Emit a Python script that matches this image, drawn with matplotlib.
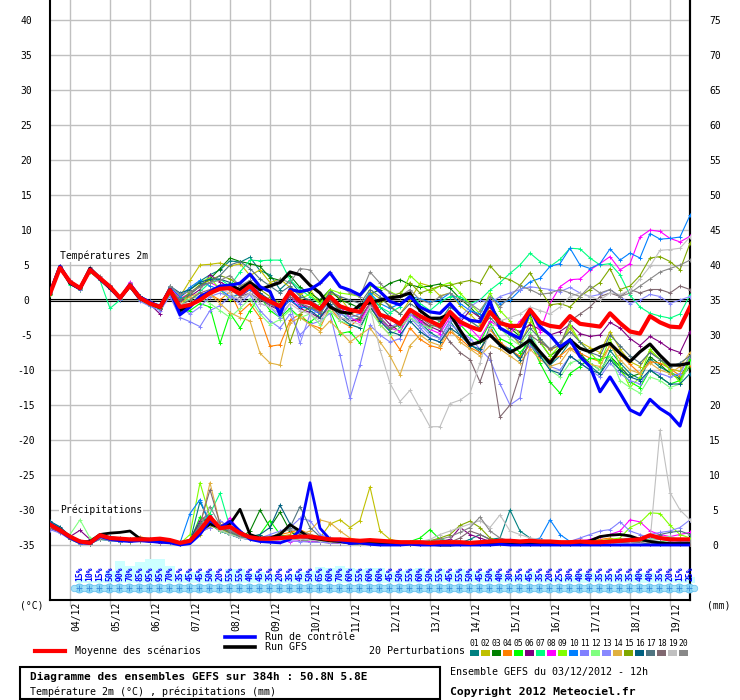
import matplotlib
matplotlib.use("Agg")
import matplotlib.pyplot as plt
from matplotlib.lines import Line2D
from matplotlib.patches import Rectangle
from matplotlib.transforms import blended_transform_factory, offset_copy

plt.rcParams["font.family"] = ["DejaVu Sans Mono", "DejaVu Sans"]

W, H = 740, 700

# ---- data -------------------------------------------------------------
hours = list(range(0, 385, 6))          # GEFS run 03/12/2012 12h, every 6h
day_hours = list(range(12, 384, 24))    # 00h of each day
day_labels = ["04/12", "05/12", "06/12", "07/12", "08/12", "09/12", "10/12", "11/12",
              "12/12", "13/12", "14/12", "15/12", "16/12", "17/12", "18/12", "19/12"]
left_ticks = list(range(-35, 41, 5))
right_ticks = list(range(0, 76, 5))

# probability of precipitation (%) for 6h steps ending 18h..384h
prob_hours = list(range(18, 385, 6))
prob_pct = [15, 10, 15, 50, 90, 70, 85, 95, 95, 70, 35, 45, 45, 50, 20, 55, 55, 40, 45, 35,
            20, 35, 45, 50, 65, 60, 70, 60, 55, 60, 60, 45, 50, 55, 60, 50, 55, 45, 55, 50,
            45, 50, 40, 30, 35, 45, 35, 20, 25, 30, 40, 40, 35, 35, 35, 35, 40, 40, 35, 20,
            15, 25]

# 2m temperature (degC)
t_mean = [0.9, 4.6, 2.6, 1.7, 4.3, 3.1, 1.9, 0.3, 2.1, 0.3, -0.5, -1.0, 1.4, -1.0, -0.7, 0.0,
          1.0, 1.6, 1.7, 0.9, 2.0, 0.5, -0.2, -0.9, 1.2, -0.2, -0.4, -1.3, 0.5, -0.9, -1.4, -1.7,
          0.4, -2.1, -2.6, -3.4, -1.4, -2.3, -3.0, -3.7, -1.7, -3.1, -3.8, -4.3, -1.7, -3.3, -3.7,
          -3.7, -1.4, -3.2, -3.7, -3.9, -2.3, -3.4, -3.6, -3.8, -1.9, -3.3, -4.5, -4.8, -2.3, -3.2,
          -3.8, -3.9, -1.0]
t_ctrl = [1.0, 4.8, 2.5, 1.6, 4.4, 3.0, 1.8, 0.2, 2.2, 0.4, -0.3, -1.0, 1.5, -2.1, -1.0, 0.5,
          1.2, 2.0, 2.1, 2.4, 3.7, 1.9, 1.2, -2.1, 1.5, 1.2, 1.5, 2.4, 3.9, 1.9, 1.4, 0.7,
          2.4, 1.2, -0.2, -0.7, 0.5, -1.0, -1.7, -1.9, -0.5, -2.1, -2.9, -3.1, -0.2, -4.0, -4.8,
          -5.5, -1.4, -3.8, -5.0, -6.7, -5.7, -8.1, -9.5, -13.1, -11.0, -13.3, -15.7, -16.4, -14.2,
          -15.5, -16.4, -18.0, -13.1]
t_gfs = [1.0, 4.8, 2.4, 1.6, 4.5, 3.0, 1.7, 0.3, 2.0, 0.2, -0.4, -1.1, 1.5, -1.5, -0.8, 0.2,
         1.0, 1.8, 2.0, 1.5, 2.5, 1.5, 2.0, 2.5, 4.0, 3.6, 2.1, 1.0, -1.0, -1.7, -1.9, -0.7,
         -0.4, 0.0, 0.3, 0.5, 1.0, -1.5, -2.6, -2.6, -2.0, -4.3, -6.4, -6.0, -5.0, -6.4, -7.5,
         -6.7, -5.7, -7.4, -9.0, -7.1, -5.7, -6.9, -7.4, -6.7, -6.2, -7.6, -8.8, -7.4, -6.3,
         -7.9, -9.3, -9.3, -9.0]

t_p01 = [1.0, 4.9, 2.4, 1.8, 4.5, 3.0, 1.6, 0.0, 2.4, 0.6, -0.2, -1.3,
         1.8, 0.4, 1.5, 2.7, 3.6, 4.3, 5.6, 5.4, 6.1,
         4.2, 3.6, 1.5, 2.8, 1.0, -0.5, -2.0, 0.2, -1.8, -3.0,
         -2.5, 0.6, -1.0, -2.4, -4.0, -1.5, -3.2, -4.6, -5.5, -3.0,
         -5.0, -6.3, -7.4, -3.8, -6.2, -7.0, -8.2, -5.0, -7.8, -9.3,
         -8.0, -6.0, -7.5, -9.4, -10.6, -7.2, -9.0, -10.5, -11.3, -8.4,
         -9.6, -10.3, -11.0, -8.6]
t_p02 = [0.8, 4.5, 2.5, 1.5, 4.2, 3.2, 2.0, 0.5, 2.0, 0.2, -0.6, -0.9,
         1.2, 0.5, 2.8, 5.0, 5.1, 5.3, 4.8, 5.2, 3.5,
         4.3, 2.5, 3.0, 1.8, 0.8, 1.5, -0.5, 1.0, 0.3, -1.5,
         -1.0, 1.2, 0.2, -0.8, -2.0, 0.0, 2.4, 2.0, 0.6, 1.0,
         -0.8, -2.0, -3.5, -1.0, -3.0, -4.5, -6.5, -3.2, -5.6, -7.2,
         -6.4, -4.0, -6.0, -6.8, -7.5, -4.5, -7.0, -8.8, -9.5, -7.3,
         -8.5, -9.8, -10.2, -8.0]
t_p03 = [1.1, 4.7, 2.7, 1.9, 4.2, 3.0, 1.8, 0.4, 2.0, 0.1, -0.7, -1.1,
         1.6, -0.5, 0.8, 2.0, 3.0, 4.5, 6.0, 5.5, 5.2,
         4.8, 3.2, 2.8, 3.5, 1.8, 1.0, 0.0, 1.5, 0.0, -0.5,
         -1.2, 0.8, 1.5, 2.4, 2.9, 2.2, 1.8, 2.0, 2.3, 1.7,
         0.2, -1.0, -2.5, -0.5, -2.8, -4.0, -5.2, -2.0, -6.0, -8.0,
         -7.0, -5.5, -7.8, -9.0, -10.0, -8.0, -9.5, -11.0, -10.5, -8.1,
         -9.2, -10.5, -11.3, -9.5]
t_p04 = [0.9, 4.6, 2.8, 1.6, 4.4, 3.1, 1.9, 0.2, 2.2, 0.4, -0.4, -1.0,
         1.3, -1.2, -0.5, 0.5, 0.8, 0.0, 1.2, -1.8, -0.5,
         -2.5, -6.6, -6.4, -2.9, -2.0, -3.5, -4.0, -1.0, -3.0, -3.8,
         -2.5, -0.5, -3.5, -5.0, -7.1, -4.0, -5.6, -6.5, -6.9, -4.5,
         -5.5, -6.8, -7.5, -4.2, -6.0, -7.2, -8.0, -6.5, -8.2, -8.5,
         -8.0, -6.8, -7.6, -8.3, -8.8, -6.5, -7.8, -9.2, -10.5, -8.8,
         -9.0, -9.8, -10.8, -9.3]
t_p05 = [0.7, 4.4, 2.3, 1.5, 4.0, 2.9, 1.7, 0.1, 1.8, 0.0, -0.8, -1.3,
         0.8, -1.8, -1.5, -0.5, -1.0, -6.2, -1.9, -4.0, -1.5,
         0.5, -1.5, -2.5, -1.2, -2.5, -3.2, -2.0, -1.5, -4.8, -4.5,
         -6.2, -1.0, -2.8, -4.2, -3.5, -1.6, -2.8, -4.0, -3.0, -1.8,
         -3.5, -5.0, -6.0, -3.2, -5.5, -6.2, -7.5, -6.0, -9.0, -11.7,
         -13.3, -10.5, -9.5, -8.3, -8.5, -8.0, -10.0, -11.7, -12.5, -10.0,
         -11.0, -12.0, -11.5, -8.5]
t_p06 = [1.0, 4.8, 2.5, 1.7, 4.3, 3.0, 1.8, 0.3, 2.3, 0.2, -0.6, -2.0,
         1.7, -0.2, 0.5, 1.5, 3.6, 2.6, 1.8, 0.5, 1.5,
         0.2, -0.8, -1.5, 0.0, -1.2, -1.8, -2.6, -0.8, -2.5, -3.0,
         -2.8, -0.5, -2.0, -3.5, -4.5, -2.0, -2.8, -3.8, -4.4, -2.0,
         -3.2, -1.5, -2.5, -1.0, -3.0, -4.0, -4.5, -3.5, -4.2, -5.0,
         -4.5, -3.5, -4.8, -5.2, -5.0, -3.2, -4.0, -5.5, -6.5, -5.2,
         -6.0, -7.0, -7.5, -4.5]
t_p07 = [0.8, 4.5, 2.2, 1.6, 4.1, 2.8, -1.2, 0.0, 1.9, 0.1, -0.5, -1.2,
         1.5, 0.3, 0.0, 1.2, 2.5, 3.0, 2.0, 4.0, 5.7,
         5.6, 5.7, 5.7, 2.9, 1.5, 0.5, -0.5, 0.8, -1.5, -2.5,
         -2.0, 1.0, -1.0, -1.8, -1.0, 0.8, -0.5, -1.5, -0.3, 0.5,
         0.5, -0.5, 0.0, 1.4, 2.5, 3.8, 5.0, 6.7, 5.5, 4.8,
         5.8, 7.4, 7.3, 6.0, 5.0, 5.2, 3.6, 0.7, -1.0, -1.9,
         -2.3, -2.6, -2.0, 0.7]
t_p08 = [1.0, 4.9, 2.7, 1.9, 4.6, 3.3, 2.0, 0.4, 2.6, 0.5, -0.3, -0.8,
         1.8, 0.2, 1.0, 2.0, 2.5, 1.8, 2.0, 1.0, 2.3,
         1.0, -0.5, -1.2, 0.5, -0.8, -1.0, -2.0, 0.5, -1.0, -2.5,
         -3.2, -0.5, -3.0, -4.0, -4.5, -2.0, -3.0, -4.2, -4.8, -2.5,
         -3.5, -4.0, -5.5, -3.0, -4.0, -4.8, -3.0, -1.5, -4.5, -0.5,
         1.9, 2.9, 3.0, 4.3, 5.2, 6.2, 4.3, 5.2, 9.0, 10.0,
         9.8, 8.8, 8.3, 9.1]
t_p09 = [0.9, 4.6, 2.5, 1.6, 4.3, 3.0, 1.8, 0.2, 2.0, 0.2, -0.7, -1.1,
         1.0, -1.5, 1.5, 2.5, 3.2, 1.5, 0.0, 1.0, 1.8,
         0.5, 0.0, -0.8, 1.0, 0.2, 0.8, -0.5, 1.5, 1.0, 0.8,
         0.5, 2.0, 1.8, 1.2, 0.5, 3.5, 2.2, 1.2, 2.0, 2.5,
         1.0, -0.5, -2.0, 1.0, -1.5, -3.0, -5.0, -2.5, -6.0, -8.0,
         -6.5, -3.5, -6.0, -7.5, -9.0, -5.5, -9.5, -12.5, -11.0, -7.0,
         -8.5, -10.0, -11.8, -8.0]
t_p10 = [1.0, 4.7, 2.6, 1.8, 4.4, 3.2, 2.0, 0.3, 2.1, 0.4, -0.3, -0.7,
         1.9, 0.5, 1.8, 2.8, 2.0, 1.5, 0.5, 0.8, 1.5,
         0.5, -0.5, -1.5, 0.0, -1.0, -1.2, -2.0, 0.5, -1.2, -1.5,
         -1.0, 1.0, -0.5, -1.2, -0.5, 0.5, 0.2, -0.3, 0.0, 1.0,
         -0.5, -1.5, -2.0, 0.5, -0.5, 0.0, 1.4, 2.6, 3.1, 4.8,
         5.2, 7.4, 5.0, 4.5, 5.2, 7.3, 5.7, 6.7, 6.0, 9.5,
         8.7, 8.8, 9.0, 12.1]
t_p11 = [0.8, 4.4, 2.4, 1.5, 4.1, 2.9, 1.7, 0.0, 1.8, -0.2, -0.9, -1.5,
         0.5, -2.5, -3.1, -3.8, -1.5, -0.8, 0.5, -0.5, 0.8,
         -1.5, -3.0, -4.0, -2.0, -5.0, -3.5, -3.0, -1.9, -7.9, -14.0,
         -9.3, -3.6, -5.0, -6.0, -5.5, -2.5, -4.0, -5.5, -6.0, -3.5,
         -4.5, -5.5, -7.0, -8.5, -12.0, -15.0, -14.0, -6.5, -8.0, -9.5,
         -10.0, -8.0, -9.0, -10.0, -11.0, -9.0, -10.5, -11.5, -12.0, -10.0,
         -10.5, -11.0, -10.5, -8.0]
t_p12 = [0.9, 4.5, 2.6, 1.7, 4.2, 3.1, 1.9, 0.3, 2.0, 0.3, -0.5, -1.0,
         1.2, -0.8, 0.2, 0.5, -0.5, -1.5, -2.5, -1.2, 0.2,
         -2.0, -3.5, -2.8, -1.5, -2.5, -2.0, -3.5, -1.5, -3.0, -3.5,
         -4.0, -1.5, -3.5, -5.0, -4.0, -2.5, -3.5, -4.0, -3.0, -1.0,
         -2.0, -3.0, -4.0, -1.5, -4.0, -5.5, -6.5, -4.5, -7.5, -10.0,
         -11.0, -9.0, -8.5, -9.0, -10.0, -8.0, -11.5, -12.5, -13.3, -11.0,
         -11.5, -12.5, -12.0, -9.0]
t_p13 = [1.1, 4.8, 2.8, 1.8, 4.5, 3.2, 2.1, 0.5, 2.2, 0.5, -0.2, -0.8,
         1.4, -1.0, -2.0, -1.0, 0.5, 1.0, 0.5, 0.0, 1.0,
         -0.5, -1.0, -2.5, -0.5, -6.2, -2.0, -1.5, -0.5, -2.0, -2.5,
         -2.0, 0.0, -2.5, -4.0, -3.0, -2.0, -3.5, -5.0, -5.5, -3.0,
         -2.5, -1.0, 0.0, -0.5, 0.5, 1.0, 1.5, 1.9, 1.7, 1.5,
         1.2, 1.8, 1.0, 0.5, 0.8, 1.5, 0.5, -0.5, 0.0, 0.8,
         0.5, -0.5, 0.0, 0.5]
t_p14 = [1.0, 4.7, 2.5, 1.8, 4.3, 3.1, 2.0, 0.4, 2.1, 0.3, -0.5, -1.0,
         1.0, -0.5, 0.5, 1.0, 0.8, -0.5, -1.8, -2.5, -3.0,
         -7.6, -9.0, -9.3, -3.3, -2.5, -3.5, -4.5, -3.0, -4.5, -6.0,
         -5.0, -4.0, -6.0, -8.0, -10.7, -6.5, -5.0, -6.0, -6.5, -4.0,
         -6.0, -7.0, -8.0, -6.5, -7.0, -8.0, -9.0, -7.0, -8.5, -9.5,
         -9.0, -7.0, -8.0, -9.2, -9.5, -6.5, -8.5, -10.0, -10.5, -9.0,
         -10.0, -10.5, -9.5, -7.5]
t_p15 = [0.9, 4.6, 2.6, 1.7, 4.4, 3.0, 1.9, 0.3, 2.2, 0.2, -0.6, -1.0,
         1.5, 0.0, 1.0, 2.2, 2.8, 3.5, 3.0, 2.0, 2.5,
         1.5, 0.5, -0.5, -6.0, -2.0, -1.0, -1.5, 0.0, -1.5, -2.0,
         -1.5, 0.5, -0.5, 0.5, 1.0, 2.5, 1.0, 1.5, 2.0, 2.1,
         2.5, 2.8, 2.4, 4.9, 3.3, 2.9, 2.1, 3.9, 1.5, -0.7,
         -0.5, -1.0, 0.5, 1.5, 2.5, 4.5, 1.5, 2.0, 3.5, 6.0,
         6.2, 5.5, 4.3, 8.1]
t_p16 = [1.0, 4.6, 2.7, 1.8, 4.3, 3.2, 2.0, 0.5, 2.3, 0.6, -0.4, -0.9,
         2.0, 1.0, 1.5, 2.5, 3.0, 3.0, 2.5, 1.5, 2.0,
         1.0, 0.0, -1.0, 1.0, -0.5, -1.5, -2.5, -0.5, -2.5, -3.5,
         -4.0, -1.0, -3.0, -4.5, -5.0, -3.0, -4.5, -5.5, -6.0, -4.0,
         -5.0, -6.5, -7.0, -5.0, -6.5, -7.0, -8.5, -6.0, -8.0, -10.0,
         -10.5, -8.0, -9.0, -10.0, -10.5, -8.5, -10.0, -11.0, -11.5, -10.0,
         -11.0, -12.0, -12.0, -10.5]
t_p17 = [0.8, 4.5, 2.5, 1.6, 4.2, 3.0, 1.8, 0.2, 2.0, 0.1, -0.7, -1.2,
         1.2, 0.0, 0.8, 2.0, 2.5, 3.5, 5.0, 5.5, 4.5,
         3.0, 2.0, 1.0, 2.0, 0.5, 0.0, -1.0, 1.2, 0.5, 0.0,
         -0.5, 1.5, 0.5, -1.0, -2.0, -0.5, -1.5, -2.5, -3.0, -1.0,
         -2.0, -3.0, -4.0, -2.5, -4.0, -5.0, -6.0, -4.0, -5.5, -7.0,
         -6.0, -4.5, -6.0, -7.5, -8.0, -5.0, -6.5, -8.0, -9.0, -7.5,
         -8.5, -9.5, -9.0, -8.0]
t_p18 = [0.9, 4.6, 2.4, 1.7, 4.2, 3.0, 1.8, 0.2, 2.1, 0.2, -0.5, -1.1,
         1.4, -0.8, 0.0, 1.0, 1.5, 2.0, 1.5, 0.5, 1.0,
         0.0, -0.5, -1.5, 0.5, -0.5, -1.0, -1.8, 0.0, -1.5, -2.0,
         -2.5, -0.5, -2.5, -4.0, -3.5, -1.5, -2.5, -3.5, -4.0, -6.0,
         -7.5, -8.5, -11.7, -7.6, -16.7, -15.0, -10.5, -5.0, -6.0, -7.0,
         -6.5, -3.0, -2.0, -1.0, 0.5, 1.0, 0.5, 1.5, 1.0, 1.5,
         1.5, 1.0, 2.0, 1.5]
t_p19 = [1.0, 4.7, 2.6, 1.6, 4.3, 3.0, 1.9, 0.3, 2.0, 0.3, -0.4, -1.0,
         1.2, -0.6, -0.5, 0.5, 1.0, 1.5, 1.0, 0.0, 1.0,
         -0.5, -1.0, -2.0, -0.5, -1.5, -2.0, -3.0, -1.0, -2.5, -3.0,
         -3.5, -1.0, -7.1, -11.9, -14.5, -12.9, -15.5, -18.1, -18.1, -14.8,
         -14.3, -13.3, -9.0, -4.0, -3.0, -2.5, -2.0, -1.0, -1.5, -2.0,
         -1.0, 0.5, 1.0, 0.5, 0.0, 1.0, 0.8, 1.4, 3.0, 4.8,
         7.1, 7.2, 7.4, 9.0]
t_p20 = [1.1, 4.9, 2.7, 1.9, 4.7, 3.4, 2.1, 0.4, 2.4, 0.4, -0.3, -0.8,
         2.0, 0.8, 1.2, 1.8, 2.5, 2.8, 3.5, 2.0, 2.8,
         1.5, 2.0, 3.0, 2.5, 4.5, 4.3, 2.5, 4.0, 2.0, 1.0,
         0.5, 4.0, 2.4, 1.0, 0.5, 1.5, 0.0, -0.5, 0.5, 1.0,
         0.0, -0.5, -1.5, 0.5, -1.0, 0.5, 2.0, 1.5, 0.8, 1.0,
         1.5, 1.0, 0.5, 2.0, 1.0, 1.5, 0.5, 1.0, 2.0, 3.0,
         4.0, 4.5, 5.0, 5.7]

# precipitation (mm / 6h)
p_mean = [2.9, 2.1, 1.2, 0.5, 0.3, 1.4, 1.0, 0.9, 0.8, 0.8, 0.8, 0.9, 0.7, 0.3, 0.6,
          2.1, 4.0, 2.4, 2.6, 1.7, 1.1, 0.9, 0.9, 1.0, 1.1, 1.2, 1.2, 1.0, 0.8, 0.8,
          0.7, 0.6, 0.7, 0.6, 0.5, 0.4, 0.4, 0.4, 0.3, 0.4, 0.4, 0.4, 0.3, 0.4, 0.5,
          0.6, 0.6, 0.5, 0.6, 0.5, 0.5, 0.4, 0.4, 0.5, 0.4, 0.4, 0.5, 0.6, 0.7, 0.8,
          1.4, 1.0, 0.8, 0.8, 0.8]
p_ctrl = [3.0, 2.0, 1.0, 0.3, 0.2, 1.2, 0.8, 0.6, 0.5, 0.6, 0.5, 0.4, 0.3, 0.0, 0.2,
          1.5, 3.5, 2.5, 3.4, 2.0, 0.8, 0.5, 0.4, 0.3, 0.8, 2.1, 8.9, 2.4, 0.8, 0.6,
          0.2, 0.3, 0.1, 0.0, 0.0, 0.0, 0.1, 0.0, 0.0, 0.0, 0.0, 0.0, 0.0, 0.0, 0.0,
          0.1, 0.0, 0.0, 0.0, 0.0, 0.0, 0.0, 0.0, 0.0, 0.0, 0.0, 0.0, 0.0, 0.0, 0.0,
          0.0, 0.0, 0.0, 0.0, 0.0]
p_gfs = [3.0, 2.2, 1.2, 0.4, 0.5, 1.5, 1.7, 1.8, 2.0, 0.9, 0.8, 0.6, 0.5, 0.2, 0.5,
         2.0, 3.0, 2.5, 3.0, 5.1, 1.5, 1.0, 1.0, 1.5, 2.9, 2.0, 1.0, 0.8, 0.6, 0.5,
         0.3, 0.3, 0.2, 0.2, 0.1, 0.1, 0.2, 0.1, 0.1, 0.0, 0.0, 0.1, 0.2, 0.1, 0.1,
         0.2, 0.1, 0.1, 0.2, 0.1, 0.1, 0.1, 0.2, 0.3, 0.6, 1.2, 1.4, 1.5, 1.3, 0.8,
         0.5, 0.3, 0.2, 0.2, 0.2]

p_p01 = [2.5, 2.0, 1.0, 0.3, 0.2, 1.0, 0.8, 0.6, 0.7, 0.8, 0.6, 0.5, 0.4, 0.3, 0.5,
         6.2, 3.0, 2.0, 1.5, 1.0, 0.8, 0.6, 0.5, 0.7, 1.0, 0.8, 0.6, 0.5, 0.4, 0.3,
         0.2, 0.3, 0.2, 0.1, 0.1, 0.2, 0.3, 0.5, 0.6, 0.8, 0.5, 0.3, 0.8, 1.5, 0.8,
         1.0, 5.0, 2.0, 1.0, 0.5, 0.3, 0.2, 0.3, 0.4, 0.5, 0.3, 0.2, 0.4, 0.6, 0.5,
         0.4, 0.3, 0.2, 0.4, 0.5]
p_p02 = [3.2, 2.3, 1.1, 0.4, 0.3, 1.2, 0.9, 0.7, 0.6, 0.7, 0.5, 0.4, 0.6, 0.3, 0.4,
         1.5, 3.0, 2.5, 1.8, 2.0, 1.2, 0.8, 0.9, 1.2, 1.5, 2.0, 1.5, 1.0, 3.0, 3.6,
         2.5, 3.5, 8.3, 2.0, 0.8, 0.5, 0.4, 0.3, 0.2, 0.3, 0.4, 0.3, 0.2, 0.3, 0.2,
         0.3, 0.2, 0.4, 0.3, 0.2, 0.2, 0.3, 0.2, 0.3, 0.4, 0.5, 0.4, 0.3, 0.2, 0.3,
         0.4, 0.5, 0.3, 0.2, 0.3]
p_p03 = [2.8, 2.0, 0.9, 0.3, 0.2, 0.9, 0.7, 0.5, 0.6, 0.7, 0.5, 0.4, 0.5, 0.2, 0.6,
         2.5, 3.5, 2.0, 1.5, 1.0, 2.0, 5.0, 2.5, 4.7, 2.0, 1.0, 0.8, 0.6, 0.5, 0.3,
         0.2, 0.3, 0.2, 0.1, 0.2, 0.1, 0.2, 0.2, 0.1, 0.1, 0.2, 0.3, 0.4, 0.3, 0.2,
         0.3, 0.2, 0.2, 0.1, 0.2, 0.3, 0.4, 0.2, 0.3, 0.2, 0.3, 0.5, 0.6, 0.4, 0.3,
         0.2, 0.3, 0.4, 0.3, 0.2]
p_p04 = [3.0, 2.4, 1.3, 0.5, 0.4, 1.3, 1.0, 0.8, 0.9, 1.2, 0.8, 0.7, 0.6, 0.2, 0.7,
         1.8, 2.5, 3.5, 2.2, 1.5, 1.0, 0.9, 1.2, 1.5, 1.8, 2.2, 1.5, 1.2, 1.0, 0.8,
         0.6, 0.5, 0.4, 0.3, 0.2, 0.2, 0.1, 0.2, 0.3, 0.2, 0.3, 0.2, 0.3, 0.5, 0.4,
         0.3, 0.2, 0.3, 0.2, 0.1, 0.2, 0.3, 0.4, 0.6, 0.5, 0.8, 1.0, 0.6, 0.4, 0.3,
         0.3, 0.2, 0.3, 0.2, 0.3]
p_p05 = [2.6, 1.9, 0.8, 0.2, 0.2, 0.8, 0.6, 0.5, 0.7, 0.9, 0.6, 0.5, 0.4, 0.2, 0.5,
         4.0, 3.0, 2.5, 2.0, 1.2, 0.9, 1.5, 3.5, 1.5, 1.0, 0.7, 0.5, 0.4, 0.3, 0.3,
         0.2, 0.1, 0.2, 0.3, 0.2, 0.1, 0.5, 1.0, 2.2, 0.8, 0.5, 0.3, 0.2, 0.2, 0.1,
         0.2, 0.3, 0.2, 0.1, 0.2, 0.3, 0.2, 0.1, 0.2, 0.3, 0.2, 0.3, 0.2, 0.3, 0.2,
         0.3, 0.2, 0.2, 0.3, 0.2]
p_p06 = [2.4, 1.8, 1.2, 2.1, 0.8, 0.9, 0.7, 0.6, 0.5, 0.6, 0.4, 0.3, 0.4, 0.2, 0.8,
         3.5, 4.5, 2.0, 1.5, 1.2, 0.8, 0.6, 0.5, 0.6, 0.8, 0.9, 0.7, 0.5, 0.4, 0.3,
         0.3, 0.2, 0.2, 0.1, 0.1, 0.1, 0.2, 0.2, 0.3, 0.5, 0.8, 2.5, 1.5, 1.0, 0.5,
         0.3, 0.2, 0.2, 0.1, 0.1, 0.2, 0.2, 0.3, 0.2, 0.2, 0.3, 0.2, 0.3, 0.4, 0.3,
         0.2, 0.3, 0.2, 0.3, 0.2]
p_p07 = [2.7, 2.1, 1.0, 0.3, 0.3, 1.1, 0.9, 0.7, 0.6, 0.7, 0.5, 0.4, 0.5, 0.3, 0.6,
         3.0, 4.5, 7.4, 2.5, 1.5, 1.2, 1.0, 0.9, 1.0, 1.2, 1.0, 0.8, 0.6, 0.5, 0.4,
         0.3, 0.2, 0.3, 0.2, 0.2, 0.1, 0.1, 0.2, 0.1, 0.2, 0.3, 0.2, 0.3, 0.2, 0.3,
         0.2, 0.3, 0.2, 0.2, 0.3, 0.2, 0.3, 0.3, 0.2, 0.4, 0.5, 0.6, 0.5, 0.4, 0.3,
         0.4, 0.5, 0.3, 0.4, 0.3]
p_p08 = [3.1, 2.3, 1.1, 0.4, 0.3, 1.2, 1.0, 0.8, 0.9, 1.0, 0.7, 0.6, 0.5, 0.3, 0.6,
         2.5, 3.0, 2.0, 3.9, 1.8, 1.0, 0.8, 0.6, 0.5, 0.5, 0.6, 0.5, 0.4, 0.3, 0.3,
         0.2, 0.2, 0.1, 0.1, 0.2, 0.2, 0.3, 0.2, 0.1, 0.2, 0.2, 0.3, 0.2, 0.3, 0.4,
         0.3, 0.2, 0.3, 0.2, 0.3, 0.4, 0.3, 0.5, 0.6, 0.8, 1.2, 1.5, 2.0, 3.6, 3.3,
         2.0, 1.5, 1.2, 1.5, 1.8]
p_p09 = [2.9, 2.2, 1.0, 0.3, 0.3, 1.0, 0.8, 0.6, 0.7, 0.8, 0.6, 0.5, 0.4, 0.2, 1.5,
         8.9, 4.0, 2.5, 1.5, 1.2, 0.9, 0.8, 0.7, 0.9, 1.0, 1.1, 0.8, 0.6, 0.5, 0.4,
         0.3, 0.2, 0.2, 0.1, 0.1, 0.1, 0.2, 0.1, 0.2, 0.3, 0.2, 0.3, 0.2, 0.3, 0.2,
         0.3, 0.2, 0.3, 0.2, 0.2, 0.3, 0.2, 0.3, 0.4, 0.5, 0.6, 0.8, 1.0, 2.5, 3.2,
         4.6, 4.5, 2.8, 1.5, 1.0]
p_p10 = [3.3, 2.5, 1.2, 0.5, 0.4, 1.3, 1.1, 0.9, 0.8, 0.9, 0.7, 0.6, 0.5, 0.3, 4.5,
         6.5, 3.0, 2.0, 1.5, 1.0, 0.8, 0.7, 0.6, 0.7, 0.9, 1.0, 0.9, 0.7, 0.5, 0.4,
         0.3, 0.3, 0.2, 0.2, 0.1, 0.1, 0.1, 0.2, 0.1, 0.1, 0.2, 0.3, 0.2, 0.2, 0.3,
         0.4, 0.5, 0.3, 0.6, 1.0, 3.6, 1.5, 0.5, 0.3, 0.2, 0.3, 0.4, 0.3, 0.2, 0.3,
         0.2, 0.3, 0.4, 0.3, 0.2]
p_p11 = [2.2, 1.7, 0.8, 0.2, 0.2, 0.8, 0.6, 0.5, 0.6, 0.7, 0.5, 0.4, 0.3, 0.2, 0.4,
         2.0, 2.5, 3.0, 2.2, 1.5, 1.2, 1.0, 1.5, 2.0, 2.5, 3.8, 3.5, 1.5, 1.0, 0.8,
         0.5, 0.3, 0.2, 0.2, 0.1, 0.2, 0.1, 0.2, 0.3, 0.2, 0.3, 0.2, 0.3, 0.4, 0.5,
         0.6, 0.8, 0.5, 0.3, 0.2, 0.3, 0.4, 0.5, 1.0, 1.5, 2.0, 2.2, 3.3, 2.0, 1.5,
         1.0, 0.8, 0.6, 0.5, 0.4]
p_p12 = [2.6, 2.0, 1.5, 3.6, 1.0, 0.9, 0.7, 0.6, 0.5, 0.6, 0.5, 0.4, 0.3, 0.2, 0.5,
         2.2, 3.0, 2.0, 1.5, 1.2, 1.0, 0.9, 0.8, 0.9, 1.0, 0.8, 0.7, 0.6, 0.5, 0.4,
         0.3, 0.2, 0.2, 0.3, 0.2, 0.2, 0.3, 0.2, 0.2, 0.1, 0.2, 0.2, 0.3, 0.2, 0.3,
         0.2, 0.3, 0.2, 0.3, 0.2, 0.3, 0.2, 0.3, 0.2, 0.3, 0.4, 0.3, 0.4, 0.5, 0.6,
         0.8, 1.0, 1.2, 0.8, 0.6]
p_p13 = [2.9, 2.1, 1.0, 0.4, 0.3, 1.0, 0.9, 0.7, 0.8, 0.8, 0.6, 0.5, 0.4, 0.3, 0.5,
         1.8, 2.5, 3.5, 2.5, 1.5, 1.0, 0.9, 0.8, 0.7, 0.6, 0.5, 0.4, 0.4, 0.3, 0.3,
         0.2, 0.2, 0.2, 0.1, 0.1, 0.1, 0.2, 0.2, 0.2, 0.3, 0.2, 0.3, 0.2, 0.2, 0.3,
         0.3, 0.2, 0.3, 0.2, 0.2, 0.3, 0.3, 0.2, 0.3, 0.4, 0.5, 0.4, 0.5, 0.6, 1.0,
         1.5, 1.8, 2.0, 2.5, 3.6]
p_p14 = [3.0, 2.2, 1.1, 0.4, 0.4, 1.1, 0.9, 0.8, 0.7, 0.9, 0.7, 0.6, 0.5, 0.3, 0.6,
         2.5, 8.9, 3.0, 2.0, 1.5, 1.2, 1.0, 0.8, 0.9, 1.2, 1.5, 2.0, 3.6, 3.2, 2.0,
         1.0, 0.6, 0.4, 0.3, 0.2, 0.2, 0.1, 0.2, 0.1, 0.2, 0.3, 0.4, 0.3, 0.2, 0.3,
         0.2, 0.3, 0.2, 0.3, 0.2, 0.2, 0.3, 0.2, 0.3, 0.2, 0.3, 0.2, 0.3, 0.2, 0.3,
         0.2, 0.3, 0.2, 0.3, 0.2]
p_p15 = [2.7, 2.0, 0.9, 0.3, 0.3, 1.0, 0.8, 0.6, 0.6, 0.7, 0.5, 0.5, 0.4, 0.2, 0.6,
         2.0, 2.8, 2.2, 1.8, 1.3, 1.0, 0.9, 0.8, 1.0, 1.3, 1.2, 1.0, 0.8, 0.6, 0.5,
         0.4, 0.3, 0.3, 0.2, 0.2, 0.2, 0.3, 0.4, 0.6, 1.0, 1.5, 2.8, 3.4, 2.5, 1.0,
         0.5, 0.3, 0.2, 0.3, 0.2, 0.3, 0.2, 0.3, 0.2, 0.3, 0.4, 0.3, 0.4, 0.5, 0.4,
         0.3, 0.4, 0.3, 0.2, 0.3]
p_p16 = [3.4, 2.6, 1.3, 0.6, 0.5, 1.4, 1.2, 1.0, 0.9, 1.0, 0.8, 0.7, 0.6, 0.4, 0.8,
         3.2, 4.0, 2.5, 2.0, 1.5, 1.2, 1.5, 2.5, 5.7, 3.0, 1.5, 1.0, 0.8, 0.6, 0.5,
         0.4, 0.3, 0.2, 0.2, 0.1, 0.1, 0.2, 0.1, 0.2, 0.1, 0.2, 0.2, 0.3, 0.2, 0.2,
         0.3, 0.2, 0.3, 0.2, 0.2, 0.2, 0.3, 0.2, 0.2, 0.3, 0.3, 0.2, 0.3, 0.3, 0.2,
         0.3, 0.2, 0.3, 0.4, 0.3]
p_p17 = [2.8, 2.1, 1.0, 0.3, 0.3, 1.0, 0.8, 0.7, 0.8, 0.9, 0.6, 0.5, 0.4, 0.3, 0.6,
         2.8, 3.5, 2.5, 1.8, 1.2, 0.9, 0.8, 0.9, 1.5, 2.5, 5.5, 2.5, 1.2, 0.8, 0.5,
         0.4, 0.3, 0.2, 0.2, 0.2, 0.1, 0.2, 0.2, 0.1, 0.2, 0.2, 0.3, 0.4, 0.3, 0.2,
         0.3, 0.4, 0.3, 0.2, 0.3, 0.2, 0.3, 0.4, 0.3, 0.2, 0.3, 0.4, 0.5, 0.8, 1.0,
         1.2, 1.5, 1.8, 2.0, 1.5]
p_p18 = [2.5, 1.9, 0.9, 0.3, 0.2, 0.9, 0.7, 0.6, 0.6, 0.7, 0.5, 0.4, 0.4, 0.2, 0.5,
         3.0, 7.9, 3.0, 2.0, 1.3, 1.0, 0.8, 0.7, 0.8, 1.0, 0.9, 0.7, 0.6, 0.5, 0.4,
         0.3, 0.2, 0.2, 0.1, 0.1, 0.2, 0.1, 0.2, 0.2, 0.3, 0.4, 1.0, 2.0, 1.5, 0.8,
         0.4, 0.3, 0.2, 0.3, 0.2, 0.3, 0.2, 0.3, 0.2, 0.3, 0.2, 0.3, 0.2, 0.3, 0.4,
         0.3, 0.4, 0.3, 0.3, 0.2]
p_p19 = [2.9, 2.1, 1.0, 0.3, 0.3, 1.0, 0.8, 0.7, 0.7, 0.8, 0.6, 0.5, 0.4, 0.3, 0.5,
         2.0, 3.0, 2.2, 1.5, 1.0, 0.8, 0.7, 0.6, 0.7, 0.8, 0.9, 0.7, 0.6, 0.5, 0.4,
         0.3, 0.2, 0.2, 0.1, 0.1, 0.2, 0.3, 0.5, 0.8, 1.5, 2.0, 2.5, 3.0, 3.5, 2.5,
         4.3, 2.0, 1.5, 1.0, 0.8, 0.5, 0.4, 0.3, 0.2, 0.3, 0.2, 0.3, 0.2, 0.3, 0.2,
         0.5, 16.4, 7.5, 5.0, 3.6]
p_p20 = [3.1, 2.3, 1.2, 0.5, 0.4, 1.2, 1.0, 0.8, 0.9, 1.0, 0.7, 0.6, 0.5, 0.3, 0.7,
         2.5, 5.5, 2.8, 2.0, 1.5, 1.1, 0.9, 1.0, 1.8, 2.2, 2.0, 1.5, 1.0, 0.8, 0.6,
         0.5, 0.4, 0.3, 0.2, 0.2, 0.2, 0.3, 0.3, 0.5, 0.8, 1.2, 1.8, 2.5, 4.0, 2.0,
         1.0, 0.6, 0.4, 0.3, 0.3, 0.2, 0.3, 0.4, 0.3, 0.2, 0.3, 0.5, 0.8, 1.0, 0.8,
         0.6, 0.8, 1.0, 0.8, 0.6]

pert_temp = [t_p01, t_p02, t_p03, t_p04, t_p05, t_p06, t_p07, t_p08, t_p09, t_p10,
             t_p11, t_p12, t_p13, t_p14, t_p15, t_p16, t_p17, t_p18, t_p19, t_p20]
pert_prec = [p_p01, p_p02, p_p03, p_p04, p_p05, p_p06, p_p07, p_p08, p_p09, p_p10,
             p_p11, p_p12, p_p13, p_p14, p_p15, p_p16, p_p17, p_p18, p_p19, p_p20]
pert_colors = ["#008080", "#C0C000", "#008000", "#FF8000", "#00FF00", "#800080", "#00FF80",
               "#FF00FF", "#80FF00", "#0080FF", "#8080FF", "#80FF80", "#8888FF", "#E0B040",
               "#80A800", "#006080", "#507480", "#806870", "#C0C0C0", "#888888"]

PX = 7.0          # pixels per degree / mm
MM0 = -35.0       # precipitation zero sits on the -35 degC line


def mm_to_deg(v):
    return v + MM0


def deg_to_mm(v):
    return v - MM0


def fx(x):
    return x / W


def fy(y):
    return 1 - y / H


# ---- figure -------------------------------------------------------------
fig = plt.figure(figsize=(W / 100, H / 100), dpi=100)
ax = fig.add_axes([fx(50), fy(600), 640 / W, 600 / H])
ax.set_xlim(0, 384)
ax.set_ylim(-300 / PX, 300 / PX)

ax.set_xticks(day_hours)
ax.set_xticklabels([])
ax.set_yticks(left_ticks)
ax.set_yticklabels([str(t) for t in left_ticks], fontsize=7)
ax.tick_params(axis="x", length=4, color="#c0c0c0", width=1)
ax.tick_params(axis="y", length=0, pad=17)
for lab in ax.get_yticklabels():
    lab.set_horizontalalignment("center")
ax.grid(True, color="#c0c0c0", linewidth=1)
ax.set_axisbelow(True)
for side in ["left", "right", "bottom"]:
    ax.spines[side].set_color("black")
    ax.spines[side].set_linewidth(1.5)
ax.spines["top"].set_visible(False)

sec = ax.secondary_yaxis("right", functions=(deg_to_mm, mm_to_deg))
sec.set_yticks(right_ticks)
sec.set_yticklabels([str(t) for t in right_ticks], fontsize=7)
sec.tick_params(length=0, pad=18)
for lab in sec.get_yticklabels():
    lab.set_horizontalalignment("center")
sec.spines["right"].set_linewidth(1.5)

# double 0 degC line
ax.axhline(1 / PX, color="black", linewidth=0.8, zorder=2)
ax.axhline(-1 / PX, color="black", linewidth=0.8, zorder=2)

# perturbations
for temp, prec, col in zip(pert_temp, pert_prec, pert_colors):
    ax.plot(hours, temp, color=col, linewidth=0.8, marker="+", markersize=3,
            markeredgewidth=0.7, zorder=3)
    ax.plot(hours, [mm_to_deg(v) for v in prec], color=col, linewidth=0.8, marker="+",
            markersize=3, markeredgewidth=0.7, zorder=3)

ax.plot(hours, t_gfs, color="black", linewidth=2.3, zorder=4)
ax.plot(hours, [mm_to_deg(v) for v in p_gfs], color="black", linewidth=2.0, zorder=4)
ax.plot(hours, t_ctrl, color="#0000FF", linewidth=2.3, zorder=5)
ax.plot(hours, [mm_to_deg(v) for v in p_ctrl], color="#0000FF", linewidth=2.0, zorder=5)
ax.plot(hours, t_mean, color="#FF0000", linewidth=3.0, zorder=6)
ax.plot(hours, [mm_to_deg(v) for v in p_mean], color="#FF0000", linewidth=3.0, zorder=6)

ax.text(6, 44 / PX, "Températures 2m", fontsize=7, va="center", ha="left", zorder=7,
        bbox=dict(facecolor="white", edgecolor="none", pad=0.5))
ax.text(6, -30, "Précipitations", fontsize=7, va="center", ha="left", zorder=7,
        bbox=dict(facecolor="white", edgecolor="none", pad=0.5))

# probability bars + labels
bar_base = (300 - 583) / PX
bar_scale = 0.25 / PX
ax.bar(prob_hours, [p * bar_scale for p in prob_pct], bottom=bar_base, width=6,
       color="#ccffff", edgecolor="none", zorder=2, clip_on=False)
for h, p in zip(prob_hours, prob_pct):
    ax.text(h, (300 - 573.5) / PX, f"{p}%", rotation=90, ha="center", va="center",
            fontsize=5.8, fontweight="bold", color="#0000FF", zorder=8, clip_on=False)

# decorative band under the percentages
band_y = (300 - 588) / PX
big_h = [(x - 50) * 0.6 for x in range(79, 696, 10)]
small_h = [(x - 50) * 0.6 for x in range(74, 696, 10)]
ax.scatter(big_h, [band_y] * len(big_h), s=42, marker="o", color="#8ad8f4",
           edgecolors="#62bff0", linewidths=0.6, zorder=7, clip_on=False)
ax.scatter(small_h, [band_y] * len(small_h), s=22, marker="o", color="#a6e2f7",
           edgecolors="#62bff0", linewidths=0.5, zorder=7, clip_on=False)
ax.scatter(big_h, [band_y] * len(big_h), s=14, marker="+", color="#3f8fe0",
           linewidths=0.7, zorder=8, clip_on=False)

# date labels
trans = offset_copy(blended_transform_factory(ax.transData, ax.transAxes), fig=fig,
                    x=6, y=-2, units="dots")
for h, lab in zip(day_hours, day_labels):
    ax.text(h, 0, lab, transform=trans, rotation=90, ha="center", va="top", fontsize=7,
            clip_on=False)

fig.text(fx(20), fy(606), "(°C)", fontsize=7, va="center", ha="left")
fig.text(fx(707), fy(606), "(mm)", fontsize=7, va="center", ha="left")

# legend
fig.add_artist(Line2D([fx(35), fx(65)], [fy(651), fy(651)], color="#FF0000", linewidth=3))
fig.text(fx(75), fy(651), "Moyenne des scénarios", fontsize=7.2, va="center")
fig.add_artist(Line2D([fx(225), fx(255)], [fy(637), fy(637)], color="#0000FF", linewidth=2.6))
fig.text(fx(265), fy(637), "Run de contrôle", fontsize=7.2, va="center")
fig.add_artist(Line2D([fx(225), fx(255)], [fy(647), fy(647)], color="black", linewidth=2.6))
fig.text(fx(265), fy(647), "Run GFS", fontsize=7.2, va="center")
fig.text(fx(369), fy(651), "20 Perturbations", fontsize=7.2, va="center")
for k, col in enumerate(pert_colors):
    x0 = 470 + 11 * k
    fig.add_artist(Rectangle((fx(x0), fy(656)), 9 / W, 6 / H, transform=fig.transFigure,
                             facecolor=col, edgecolor="none"))
    fig.text(fx(x0 + 4.5), fy(644), f"{k + 1:02d}", fontsize=5.8, ha="center", va="center")

fig.add_artist(Rectangle((fx(20), fy(699)), 420 / W, 32 / H, transform=fig.transFigure,
                         facecolor="white", edgecolor="black", linewidth=1.5))
fig.text(fx(30), fy(677), "Diagramme des ensembles GEFS sur 384h : 50.8N 5.8E",
         fontsize=8, fontweight="bold", va="center")
fig.text(fx(30), fy(692), "Température 2m (°C) , précipitations (mm)", fontsize=7.2,
         va="center")
fig.text(fx(450), fy(672), "Ensemble GEFS du 03/12/2012 - 12h", fontsize=7.2, va="center")
fig.text(fx(450), fy(692), "Copyright 2012 Meteociel.fr", fontsize=8.2, fontweight="bold",
         va="center")

fig.savefig("out.png", dpi=100)
